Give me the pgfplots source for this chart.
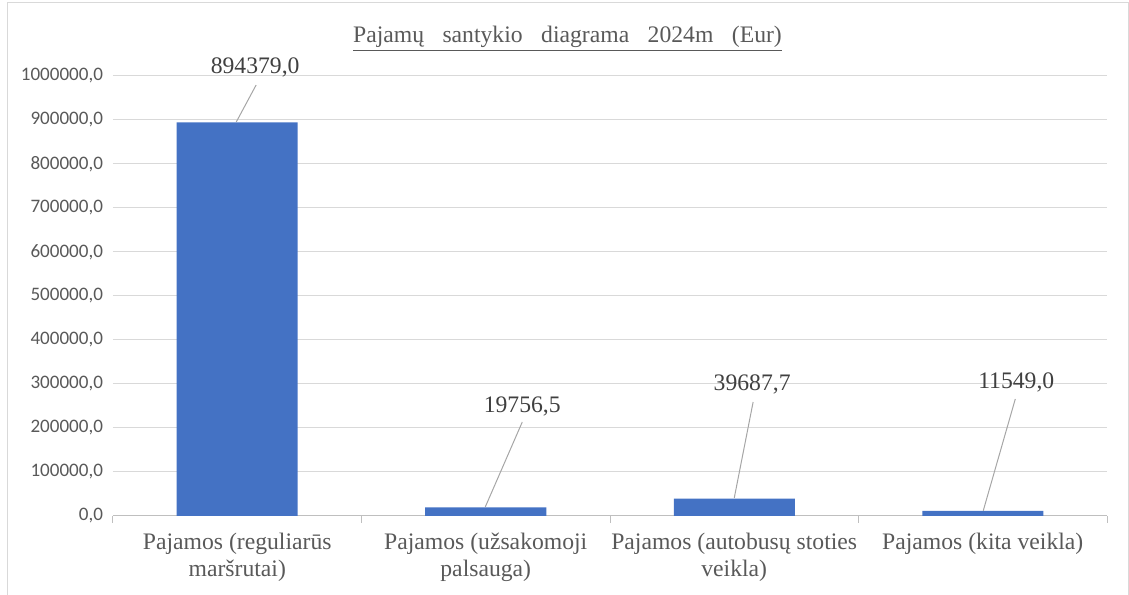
\documentclass[border=0pt]{standalone}
\usepackage{fontspec}
\setmainfont{Liberation Serif}
\newfontfamily\carlito{Carlito}
\usepackage{pgfplots}
\pgfplotsset{compat=1.18}
\definecolor{barblue}{HTML}{4472C4}
\definecolor{txtgray}{HTML}{595959}
\definecolor{lblgray}{HTML}{404040}
\definecolor{gridgray}{HTML}{D9D9D9}
\definecolor{axgray}{HTML}{BFBFBF}
\definecolor{leadgray}{HTML}{A6A6A6}
\begin{document}
\begin{tikzpicture}
\useasboundingbox (0,0) rectangle (846.75pt,446.25pt);
\draw[gridgray, line width=0.75pt] (5.25pt,0) -- (5.25pt,444pt) -- (846pt,444pt) -- (846pt,0);
\node[anchor=base, text=txtgray, font=\fontsize{17.75}{20}\selectfont] at (425.6pt,414pt)
  {\underline{Pajamų\hspace{0.78em}santykio\hspace{0.78em}diagrama\hspace{0.78em}2024m\hspace{0.78em}(Eur)}};
\begin{axis}[
  at={(84.75pt,59.25pt)}, anchor=south west,
  scale only axis, width=745.5pt, height=330pt,
  xmin=-0.5, xmax=3.5, ymin=0, ymax=1000000,
  clip=false,
  axis lines*=left,
  y axis line style={draw=none},
  x axis line style={axgray, line width=0.75pt},
  xtick={0,1,2,3},
  xticklabels={{Pajamos (reguliarūs\\maršrutai)},{Pajamos (užsakomoji\\palsauga)},{Pajamos (autobusų stoties\\veikla)},{Pajamos (kita veikla)}},
  minor xtick={-0.5,0.5,1.5,2.5,3.5},
  major tick length=0pt,
  minor tick length=5.25pt,
  tick align=outside,
  minor tick style={axgray, line width=0.75pt},
  xticklabel style={align=center, text=txtgray, font=\fontsize{17.75}{20.5}\selectfont, yshift=-9pt},
  ytick={0,100000,200000,300000,400000,500000,600000,700000,800000,900000,1000000},
  scaled y ticks=false,
  yticklabel style={text=txtgray, font=\carlito\fontsize{14.3}{15}\selectfont, xshift=-4pt,
    /pgf/number format/.cd, fixed, fixed zerofill, precision=1, use comma, 1000 sep={}, assume math mode=true},
  ymajorgrids,
  grid style={gridgray, line width=0.75pt},
  ybar, bar width=90.75pt,
]
\addplot[fill=barblue, draw=none] coordinates {(0,894379.0) (1,19756.5) (2,39687.7) (3,11549.0)};
\tikzset{lbl/.style={text=lblgray, font=\fontsize{17.75}{20}\selectfont, inner sep=0pt}, lead/.style={leadgray, line width=0.75pt}}
\node[lbl] at (axis cs:0.072,1020000) {894379,0};
\draw[lead] (axis cs:0.076,979545) -- (axis cs:-0.004,895454);
\node[lbl] at (axis cs:1.147,249000) {19756,5};
\draw[lead] (axis cs:1.147,213636) -- (axis cs:0.998,20454);
\node[lbl] at (axis cs:2.072,299000) {39687,7};
\draw[lead] (axis cs:2.076,259091) -- (axis cs:2.0,40909);
\node[lbl] at (axis cs:3.135,303500) {11549,0};
\draw[lead] (axis cs:3.131,265909) -- (axis cs:3.002,12000);
\end{axis}
\end{tikzpicture}
\end{document}
